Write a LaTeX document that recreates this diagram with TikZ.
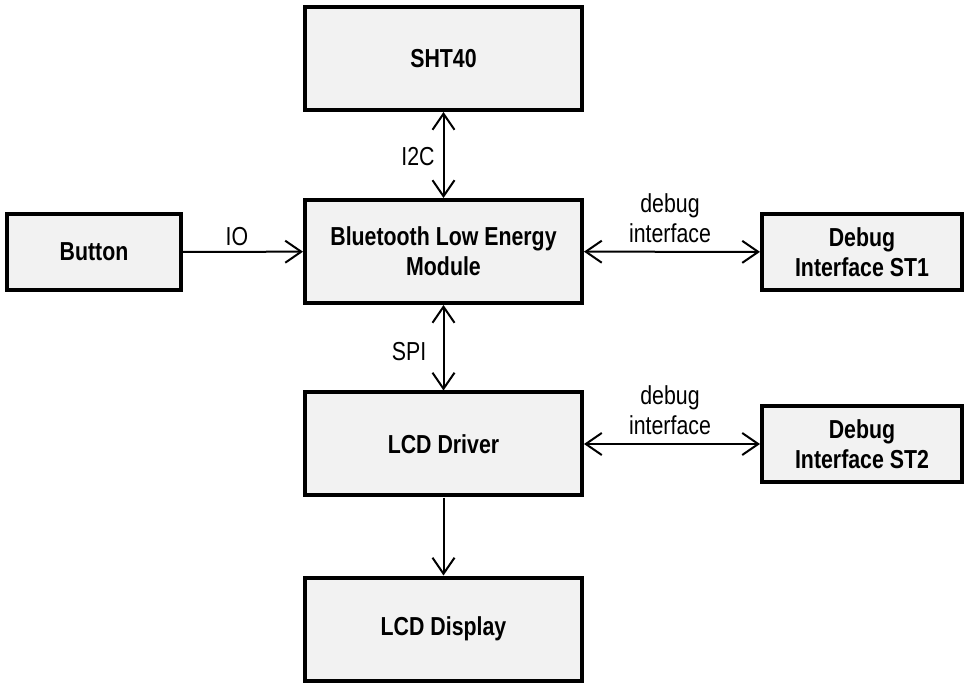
\documentclass[tikz,border=0pt]{standalone}
\usepackage{fontspec}
\setmainfont{Liberation Sans}[FakeStretch=0.82]
\usetikzlibrary{arrows.meta}
\begin{document}
\begin{tikzpicture}[x=1pt,y=-1pt,
  blk/.style={draw=black, line width=4pt, fill=black!5, align=center,
    font=\fontsize{26}{30}\selectfont\bfseries, inner sep=0pt, outer sep=2pt},
  big/.style={blk, minimum width=277pt, minimum height=103pt},
  small/.style={blk, minimum width=174pt, minimum height=76pt},
  dbg/.style={blk, minimum width=200pt, minimum height=76pt},
  conn/.style={line width=2pt, arrows={-Straight Barb[length=16pt,width=22pt,line width=2pt]}},
  bconn/.style={line width=2pt, arrows={Straight Barb[length=16pt,width=22pt,line width=2pt]-Straight Barb[length=16pt,width=22pt,line width=2pt]}},
  lbl/.style={font=\fontsize{26}{30}\selectfont, align=center, inner sep=0pt}]
\useasboundingbox (0,0) rectangle (967,684);
\node[big] (sht) at (443.5,58.5) {SHT40};
\node[big] (ble) at (443.5,251.5) {Bluetooth Low Energy\\Module};
\node[big] (drv) at (443.5,444) {LCD Driver};
\node[big] (disp) at (443.5,629) {LCD Display};
\node[small] (btn) at (94,252) {Button};
\node[dbg] (st1) at (862,252) {Debug\\Interface ST1};
\node[dbg] (st2) at (862,444) {Debug\\Interface ST2};
\draw[bconn] (sht) -- (ble);
\draw[bconn] (ble) -- (drv);
\draw[conn] (drv) -- (disp);
\draw[conn] (btn) -- (ble);
\draw[bconn] (ble) -- (st1);
\draw[bconn] (drv) -- (st2);
\node[lbl] (l1) at (418,157) {I2C};
\node[lbl] (l2) at (409,352) {SPI};
\node[lbl] (l3) at (237,237) {IO};
\node[lbl] (l4) at (670,218) {debug\\interface};
\node[lbl] (l5) at (670,410) {debug\\interface};
\end{tikzpicture}
\end{document}
